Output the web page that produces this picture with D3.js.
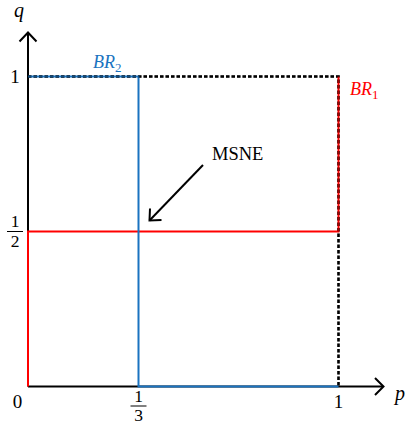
<!DOCTYPE html>
<html>
<head>
<meta charset="utf-8">
<script src="https://cdn.jsdelivr.net/npm/d3@7"></script>
<style>
  body { margin: 0; background: #fff; }
  text { font-family: "Liberation Serif", "DejaVu Serif", serif; }
</style>
</head>
<body>
<script>
// best responses in the (p, q) square
var br1 = [[0, 0], [0, 0.5], [1, 0.5], [1, 1]];
var br2 = [[0, 1], [1/3, 1], [1/3, 0], [1, 0]];
var boundary = [[0, 1], [1, 1], [1, 0]];
var msne = [1/3, 0.5];
var pTicks = [0, 1/3, 1];
var pTickLabels = [["0"], ["1", "3"], ["1"]];
var qTicks = [0.5, 1];
var qTickLabels = [["1", "2"], ["1"]];

var w = 407, h = 426;
var red = "#ff0000", blue = "#1a73c0";

var svg = d3.select("body").append("svg")
    .attr("width", w)
    .attr("height", h);

// the picture places 1/3 a little right of a true third, so a piecewise scale
var x = d3.scaleLinear().domain([0, 1/3, 1]).range([28, 138.5, 338.5]);
var y = d3.scaleLinear().domain([0, 1]).range([386.5, 76.5]);

var line = d3.line()
    .x(function (d) { return x(d[0]); })
    .y(function (d) { return y(d[1]); });

// axes with open arrow heads
var ax = svg.append("g").attr("stroke", "#000").attr("stroke-width", 2).attr("fill", "none");
ax.append("line").attr("x1", x(0)).attr("y1", y(0)).attr("x2", 383).attr("y2", y(0));
ax.append("line").attr("x1", x(0)).attr("y1", y(0)).attr("x2", x(0)).attr("y2", 33);
ax.append("path").attr("d", "M375,378L383.5," + y(0) + "L375,395");
ax.append("path").attr("d", "M19.5,41.5L28,32.5L36.5,41.5");

// dotted box edges
svg.append("path").attr("d", line(boundary))
    .attr("fill", "none").attr("stroke", "#000")
    .attr("stroke-width", 2.5).attr("stroke-dasharray", "3.5,2");

svg.append("path").attr("d", line(br1))
    .attr("fill", "none").attr("stroke", red).attr("stroke-width", 2);
svg.append("path").attr("d", line(br2))
    .attr("fill", "none").attr("stroke", blue).attr("stroke-width", 2);

// dashes showing through where the lines overlap
svg.append("path").attr("d", line(boundary))
    .attr("fill", "none").attr("stroke", "#000").attr("stroke-opacity", 0.35)
    .attr("stroke-width", 2.5).attr("stroke-dasharray", "3.5,2");

// fraction or plain labels
function label(cx, cy, parts) {
  var g = svg.append("g").attr("text-anchor", "middle");
  if (parts.length == 1) {
    g.append("text").attr("font-size", 19).attr("x", cx).attr("y", cy + 6.5).text(parts[0]);
  } else {
    g.append("text").attr("font-size", 17.5).attr("x", cx).attr("y", cy - 4.5).text(parts[0]);
    g.append("line").attr("x1", cx - 8).attr("x2", cx + 8)
        .attr("y1", cy).attr("y2", cy)
        .attr("stroke", "#000").attr("stroke-width", 1);
    g.append("text").attr("font-size", 17.5).attr("x", cx).attr("y", cy + 15).text(parts[1]);
  }
}

pTicks.forEach(function (d, i) {
  var cx = i == 0 ? 17.5 : x(d);
  if (pTickLabels[i].length == 1) label(cx, 401, pTickLabels[i]);
  else label(cx, 406, pTickLabels[i]);
});
qTicks.forEach(function (d, i) {
  label(15, y(d), qTickLabels[i]);
});

// axis names
svg.append("text").attr("x", 19).attr("y", 17).attr("font-size", 20)
    .attr("font-style", "italic").attr("text-anchor", "middle").text("q");
svg.append("text").attr("x", 400).attr("y", 400).attr("font-size", 20)
    .attr("font-style", "italic").attr("text-anchor", "middle").text("p");

// curve names
var t2 = svg.append("text").attr("x", 93).attr("y", 68).attr("font-size", 18)
    .attr("font-style", "italic").attr("fill", blue);
t2.append("tspan").text("BR");
t2.append("tspan").attr("dy", 4).attr("font-size", 13).attr("font-style", "normal").text("2");

var t1 = svg.append("text").attr("x", 350).attr("y", 95).attr("font-size", 18)
    .attr("font-style", "italic").attr("fill", red);
t1.append("tspan").text("BR");
t1.append("tspan").attr("dy", 4).attr("font-size", 13).attr("font-style", "normal").text("1");

// MSNE annotation
var mx = x(msne[0]), my = y(msne[1]);
svg.append("text").attr("x", 212).attr("y", 160).attr("font-size", 18.5).text("MSNE");
var ar = svg.append("g").attr("stroke", "#000").attr("stroke-width", 2).attr("fill", "none");
ar.append("line").attr("x1", 203).attr("y1", 165).attr("x2", mx + 11).attr("y2", my - 11);
ar.append("path").attr("d", "M" + (mx + 11.5) + "," + (my - 23) +
    "L" + (mx + 11) + "," + (my - 11) + "L" + (mx + 23) + "," + (my - 11.5));
</script>
</body>
</html>
